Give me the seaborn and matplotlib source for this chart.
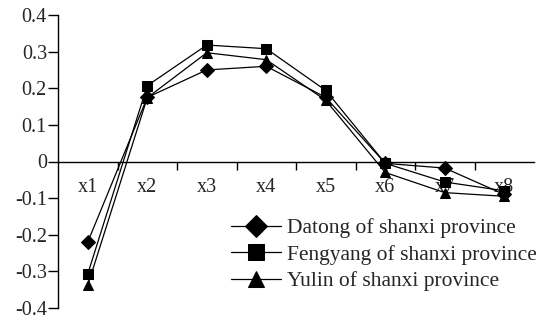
import matplotlib
matplotlib.use("Agg")
import matplotlib.pyplot as plt
import seaborn as sns
import pandas as pd
from matplotlib.ticker import FixedLocator

categories = ["x1", "x2", "x3", "x4", "x5", "x6", "x7", "x8"]
datong = [-0.22, 0.175, 0.25, 0.26, 0.175, -0.005, -0.018, -0.09]
fengyang = [-0.307, 0.207, 0.318, 0.308, 0.194, -0.005, -0.056, -0.08]
yulin = [-0.338, 0.174, 0.297, 0.278, 0.167, -0.03, -0.085, -0.095]
series_names = ["Datong of shanxi province", "Fengyang of shanxi province", "Yulin of shanxi province"]
yticks = [0.4, 0.3, 0.2, 0.1, 0, -0.1, -0.2, -0.3, -0.4]
ytick_labels = ["0.4", "0.3", "0.2", "0.1", "0", "-0.1", "-0.2", "-0.3", "-0.4"]

rows = []
for name, vals in zip(series_names, [datong, fengyang, yulin]):
    for i, v in enumerate(vals):
        rows.append({"pos": i, "value": v, "series": name})
df = pd.DataFrame(rows)

sns.set_style("white")
plt.rcParams["font.family"] = ["Liberation Serif", "DejaVu Serif"]
plt.rcParams["axes.unicode_minus"] = False

fig = plt.figure(figsize=(5.36, 3.2), dpi=100)
ax = fig.add_axes([58 / 536, 1 - 308 / 320, 476 / 536, 293 / 320])

sns.lineplot(data=df, x="pos", y="value", hue="series", style="series",
             palette=["black"] * 3, markers=["D", "s", "^"], dashes=False,
             markersize=7.5, linewidth=0.9, markeredgecolor="black",
             hue_order=series_names, style_order=series_names, ax=ax, legend=True)

ax.set_xlim(-0.5, 7.5)
ax.set_ylim(-0.4, 0.4)
ax.set_xlabel("")
ax.set_ylabel("")
for s in ["top", "right"]:
    ax.spines[s].set_visible(False)
ax.spines["bottom"].set_position(("data", 0))
ax.spines["bottom"].set_color("black")
ax.spines["left"].set_color("black")
ax.spines["bottom"].set_linewidth(1.0)
ax.spines["left"].set_linewidth(1.0)

ax.set_yticks(yticks)
ax.set_yticklabels(ytick_labels, fontsize=14.5)
ax.tick_params(axis="y", direction="out", length=7, width=1, color="black", pad=1, left=True)

ax.set_xticks(range(len(categories)))
ax.set_xticklabels(categories, fontsize=14.5)
ax.tick_params(axis="x", which="major", length=0, pad=12, bottom=True)
ax.xaxis.set_minor_locator(FixedLocator([i + 0.5 for i in range(7)]))
ax.tick_params(axis="x", which="minor", direction="out", length=6, width=1, color="black", bottom=True)

handles, labels = ax.get_legend_handles_labels()
ax.legend(handles, labels, loc="upper left", bbox_to_anchor=(231 / 536, 1 - 218 / 320),
          bbox_transform=fig.transFigure, frameon=False, fontsize=15.5, markerscale=1.5,
          handlelength=2.3, handletextpad=0.3, labelspacing=0.3, borderpad=0, borderaxespad=0)

fig.savefig("out.png", dpi=100)
